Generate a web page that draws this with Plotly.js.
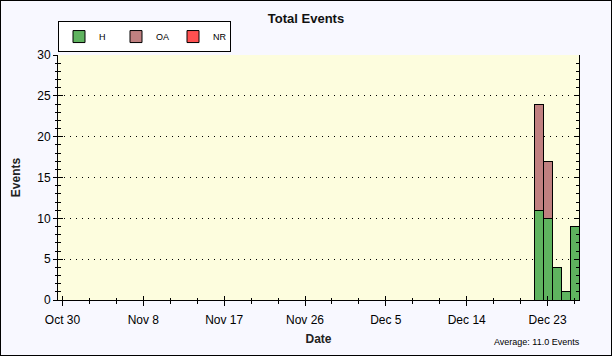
<!DOCTYPE html>
<html>
<head>
<meta charset="utf-8">
<script src="https://cdn.plot.ly/plotly-3.0.1.min.js"></script>
<style>
html,body{margin:0;padding:0;background:#fff;}
#chart{width:610px;height:354px;border:1px solid #000;}
</style>
</head>
<body>
<div id="chart"></div>
<script>
// Data
var dates = ['2007-12-22', '2007-12-23', '2007-12-24', '2007-12-25', '2007-12-26'];
var hValues = [11, 10, 4, 1, 9];
var oaValues = [13, 7, 0, 0, 0];
var nrValues = [0, 0, 0, 0, 0];
var seriesNames = ['H', 'OA', 'NR'];
var tickDates = ['2007-10-30', '2007-11-08', '2007-11-17', '2007-11-26', '2007-12-05', '2007-12-14', '2007-12-23'];
var tickLabels = ['Oct 30', 'Nov 8', 'Nov 17', 'Nov 26', 'Dec 5', 'Dec 14', 'Dec 23'];

var total = 0;
for (var i = 0; i < dates.length; i++) total += hValues[i] + oaValues[i] + nrValues[i];
var avg = total / dates.length;

var DAY = 86400000;
var font = 'Liberation Sans, Arial, sans-serif';

function bar(name, y, color) {
  return {
    type: 'bar', name: name, x: dates, y: y, width: DAY,
    marker: {color: color, line: {color: '#000', width: 1}},
    hoverinfo: 'x+y+name'
  };
}

var traces = [
  bar(seriesNames[0], hValues, '#5fb35f'),
  bar(seriesNames[1], oaValues, '#c08080'),
  bar(seriesNames[2], nrValues, '#ff5050'),
  // invisible trace to carry secondary (overlay) axes for crossing ticks
  {type: 'scatter', x: [dates[0]], y: [0], xaxis: 'x2', yaxis: 'y2', mode: 'markers',
   marker: {opacity: 0}, showlegend: false, hoverinfo: 'skip'}
];

var xr = ['2007-10-29 12:00', '2007-12-26 12:00'];

var layout = {
  width: 610, height: 354,
  paper_bgcolor: '#f8f8ff',
  plot_bgcolor: '#fdfdde',
  margin: {l: 57, r: 32, t: 54, b: 55},
  barmode: 'stack',
  bargap: 0,
  title: {text: '<b>Total Events</b>', font: {family: font, size: 13, color: '#111'},
          x: 0.5, xanchor: 'center', y: 0.95, yref: 'container', yanchor: 'middle'},
  showlegend: true,
  legend: {orientation: 'h', x: 0, xanchor: 'left', y: 1.012, yanchor: 'bottom',
           bgcolor: '#ffffff', bordercolor: '#000', borderwidth: 1,
           font: {family: font, size: 9, color: '#000'},
           entrywidth: 12, itemwidth: 30, tracegroupgap: 0,
           traceorder: 'normal'},
  xaxis: {
    type: 'date', range: xr,
    tickmode: 'array', tickvals: tickDates, ticktext: tickLabels,
    ticks: 'outside', ticklen: 5, tickcolor: '#000', tickwidth: 1,
    ticklabelstandoff: 4,
    minor: {dtick: 3 * DAY, tick0: '2007-10-30', ticks: 'outside', ticklen: 3, tickcolor: '#000'},
    showline: true, linecolor: '#000', linewidth: 1,
    showgrid: false, zeroline: false,
    tickfont: {family: font, size: 12, color: '#000'},
    title: {text: '<b>Date</b>', font: {family: font, size: 12, color: '#222'}, standoff: 8}
  },
  xaxis2: {
    type: 'date', range: xr, overlaying: 'x', anchor: 'y',
    tickmode: 'array', tickvals: tickDates, ticktext: tickLabels,
    ticks: 'inside', ticklen: 4, tickcolor: '#000',
    minor: {dtick: 3 * DAY, tick0: '2007-10-30', ticks: 'inside', ticklen: 2, tickcolor: '#000'},
    showticklabels: false, showline: false, showgrid: false, zeroline: false
  },
  yaxis: {
    range: [0, 30], dtick: 5, tick0: 0,
    ticks: 'outside', ticklen: 4, tickcolor: '#000',
    minor: {dtick: 1, ticks: 'outside', ticklen: 2, tickcolor: '#000'},
    showline: true, linecolor: '#000', linewidth: 1, mirror: true,
    showgrid: true, gridcolor: '#000', griddash: '1px,5px', gridwidth: 1,
    zeroline: false,
    tickfont: {family: font, size: 12, color: '#000'},
    title: {text: '<b>Events</b>', font: {family: font, size: 12, color: '#222'}, standoff: 14}
  },
  yaxis2: {
    range: [0, 30], dtick: 5, tick0: 0, overlaying: 'y', anchor: 'x',
    ticks: 'inside', ticklen: 5, tickcolor: '#000', mirror: 'ticks',
    minor: {dtick: 1, ticks: 'inside', ticklen: 3, tickcolor: '#000'},
    showticklabels: false, showline: false, showgrid: false, zeroline: false
  },
  annotations: [{
    text: 'Average: ' + avg.toFixed(1) + ' Events',
    xref: 'paper', yref: 'paper', x: 1.005, y: -0.17, xanchor: 'right', yanchor: 'middle',
    showarrow: false, font: {family: font, size: 9, color: '#000'}
  }]
};

Plotly.newPlot('chart', traces, layout, {displayModeBar: false, staticPlot: true});
</script>
</body>
</html>
